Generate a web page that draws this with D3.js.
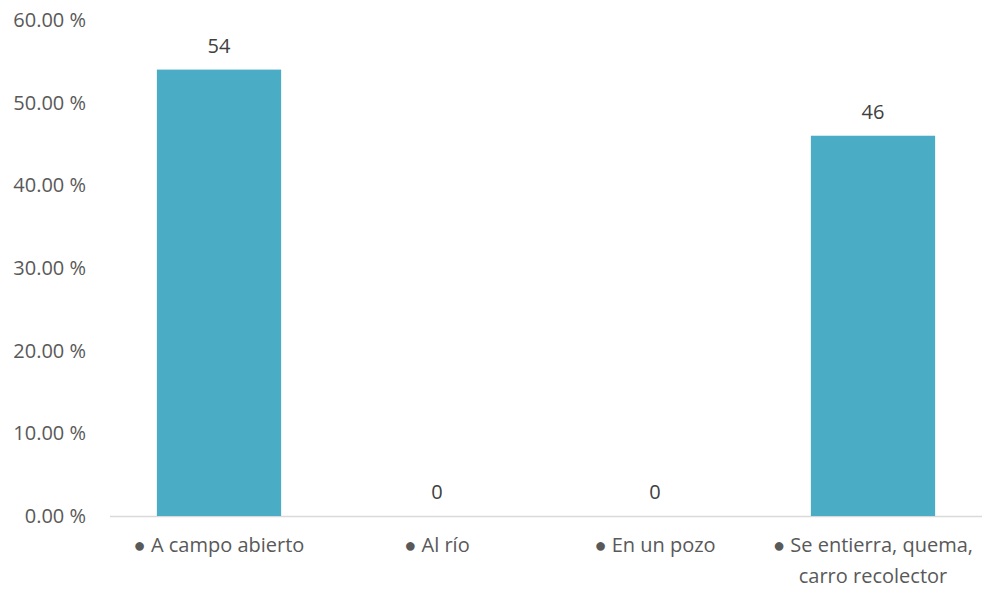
<!DOCTYPE html>
<html><head><meta charset="utf-8">
<script src="https://cdn.jsdelivr.net/npm/d3@7"></script>
<style>body{margin:0;background:#fff}svg{display:block}</style>
</head><body>
<svg id="c" width="982" height="589"></svg>
<script>
const categories = [["● A campo abierto"],["● Al río"],["● En un pozo"],["● Se entierra, quema,","carro recolector"]];
const values = [54, 0, 0, 46];
const dataLabels = ["54","0","0","46"];
const yTicks = [0,10,20,30,40,50,60];

const svg = d3.select("#c");
const font = "'Open Sans', sans-serif";
const fs = 20;
const x = d3.scaleBand().domain(d3.range(values.length)).range([110, 982]).paddingInner(0.43).paddingOuter(0.215);
const y = d3.scaleLinear().domain([0,60]).range([516, 20]);

svg.append("g").selectAll("text").data(yTicks).join("text")
  .attr("x", 86).attr("y", d=>y(d)).attr("dy","0.35em")
  .attr("text-anchor","end").attr("font-family",font).attr("font-size",fs).attr("fill","#595959")
  .text(d=>d.toFixed(2)+" %");

svg.append("line").attr("x1",110).attr("x2",982).attr("y1",y(0)+0.5).attr("y2",y(0)+0.5)
  .attr("stroke","#d9d9d9").attr("stroke-width",1.5);

svg.append("g").selectAll("rect").data(values).join("rect")
  .attr("x",(d,i)=>x(i)).attr("width",x.bandwidth())
  .attr("y",d=>y(d)).attr("height",d=>y(0)-y(d)).attr("fill","#4bacc6");

svg.append("g").selectAll("text").data(values).join("text")
  .attr("x",(d,i)=>x(i)+x.bandwidth()/2).attr("y",d=>y(d)-24).attr("dy","0.35em")
  .attr("text-anchor","middle").attr("font-family",font).attr("font-size",fs).attr("fill","#404040")
  .text((d,i)=>dataLabels[i]);

const cg = svg.append("g").selectAll("text").data(categories).join("text")
  .attr("x",(d,i)=>x(i)+x.bandwidth()/2).attr("y",552).attr("dy","0.35em")
  .attr("text-anchor","middle").attr("font-family",font).attr("font-size",fs).attr("fill","#595959");
cg.selectAll("tspan").data(d=>d).join("tspan")
  .attr("x",function(){return this.parentNode.getAttribute("x");})
  .attr("dy",(d,i)=>i===0?0:31).text(d=>d);
</script>
</body></html>
